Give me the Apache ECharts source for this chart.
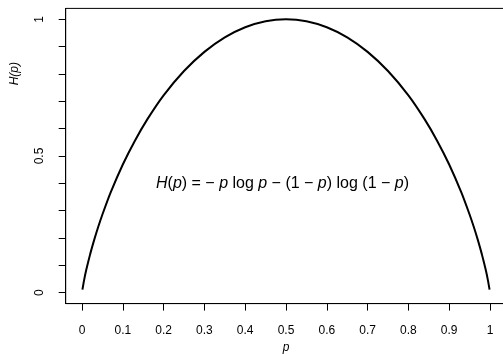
<!DOCTYPE html>
<html>
<head>
<meta charset="utf-8">
<script src="https://cdn.jsdelivr.net/npm/echarts@6/dist/echarts.min.js"></script>
<style>
  html, body { margin: 0; padding: 0; background: #fff; }
  #chart { width: 503px; height: 354px; }
</style>
</head>
<body>
<div id="chart"></div>
<script>
// values (binary entropy curve)
const pValues = [0.001, 0.005, 0.01, 0.02, 0.03, 0.04, 0.05, 0.07, 0.1, 0.13, 0.16, 0.2, 0.25, 0.3, 0.35, 0.4, 0.45,
  0.5, 0.55, 0.6, 0.65, 0.7, 0.75, 0.8, 0.84, 0.87, 0.9, 0.93, 0.95, 0.96, 0.97, 0.98, 0.99, 0.995, 0.999];
const hValues = [0.011, 0.045, 0.081, 0.141, 0.194, 0.242, 0.286, 0.366, 0.469, 0.557, 0.634, 0.722, 0.811, 0.881, 0.934, 0.971, 0.993,
  1.0, 0.993, 0.971, 0.934, 0.881, 0.811, 0.722, 0.634, 0.557, 0.469, 0.366, 0.286, 0.242, 0.194, 0.141, 0.081, 0.045, 0.011];
const xTicks = [0, 0.1, 0.2, 0.3, 0.4, 0.5, 0.6, 0.7, 0.8, 0.9, 1];
const yTicks = [0, 0.1, 0.2, 0.3, 0.4, 0.5, 0.6, 0.7, 0.8, 0.9, 1];
const yLabels = [0, 0.5, 1];

const FONT = 'Liberation Sans, Arial, sans-serif';
const chart = echarts.init(document.getElementById('chart'));

// R style: range padded 4% on each side; the box's right edge falls just outside the picture
chart.setOption({
  animation: false,
  backgroundColor: '#fff',
  grid: {
    left: 65.7, top: 8.4, right: -3.3, bottom: 50.4, outerBoundsMode: 'none',
    show: true, borderColor: '#000', borderWidth: 1
  },
  xAxis: {
    type: 'value', min: -0.04, max: 1.04,
    axisLine: { show: true, onZero: false, lineStyle: { color: '#000', width: 1 } },
    axisTick: { show: true, length: 7, customValues: xTicks, lineStyle: { color: '#000', width: 1 } },
    splitLine: { show: false },
    axisLabel: { color: '#000', fontFamily: FONT, fontSize: 12, margin: 21, customValues: xTicks, formatter: v => String(+v.toFixed(1)) },
    name: 'p', nameLocation: 'middle', nameGap: 38,
    nameTextStyle: { color: '#000', fontFamily: FONT, fontSize: 12, fontStyle: 'italic' }
  },
  yAxis: {
    type: 'value', min: -0.04, max: 1.04,
    axisLine: { show: true, onZero: false, lineStyle: { color: '#000', width: 1 } },
    axisTick: { show: true, length: 7, customValues: yTicks, lineStyle: { color: '#000', width: 1 } },
    splitLine: { show: false },
    axisLabel: {
      color: '#000', fontFamily: FONT, fontSize: 12, margin: 20, rotate: 90,
      customValues: yLabels, formatter: v => String(+v.toFixed(1))
    }
  },
  graphic: [{
    type: 'text', left: 9, top: 62, rotation: Math.PI / 2,
    style: { text: 'H(p)', fill: '#000', font: 'italic 12px ' + FONT }
  }, {
    type: 'text', left: 156, top: 175.5,
    style: {
      text: '{i|H}({i|p}) = \u2212 {i|p} log {i|p} \u2212 (1 \u2212 {i|p}) log (1 \u2212 {i|p})',
      fill: '#000', font: '16px ' + FONT,
      rich: { i: { fontStyle: 'italic', fontSize: 16, fontFamily: FONT, fill: '#000' } }
    }
  }],
  series: [{
    type: 'line',
    data: pValues.map((p, i) => [p, hValues[i]]),
    showSymbol: false, smooth: 0.2,
    lineStyle: { color: '#000', width: 2 }
  }]
});
</script>
</body>
</html>
